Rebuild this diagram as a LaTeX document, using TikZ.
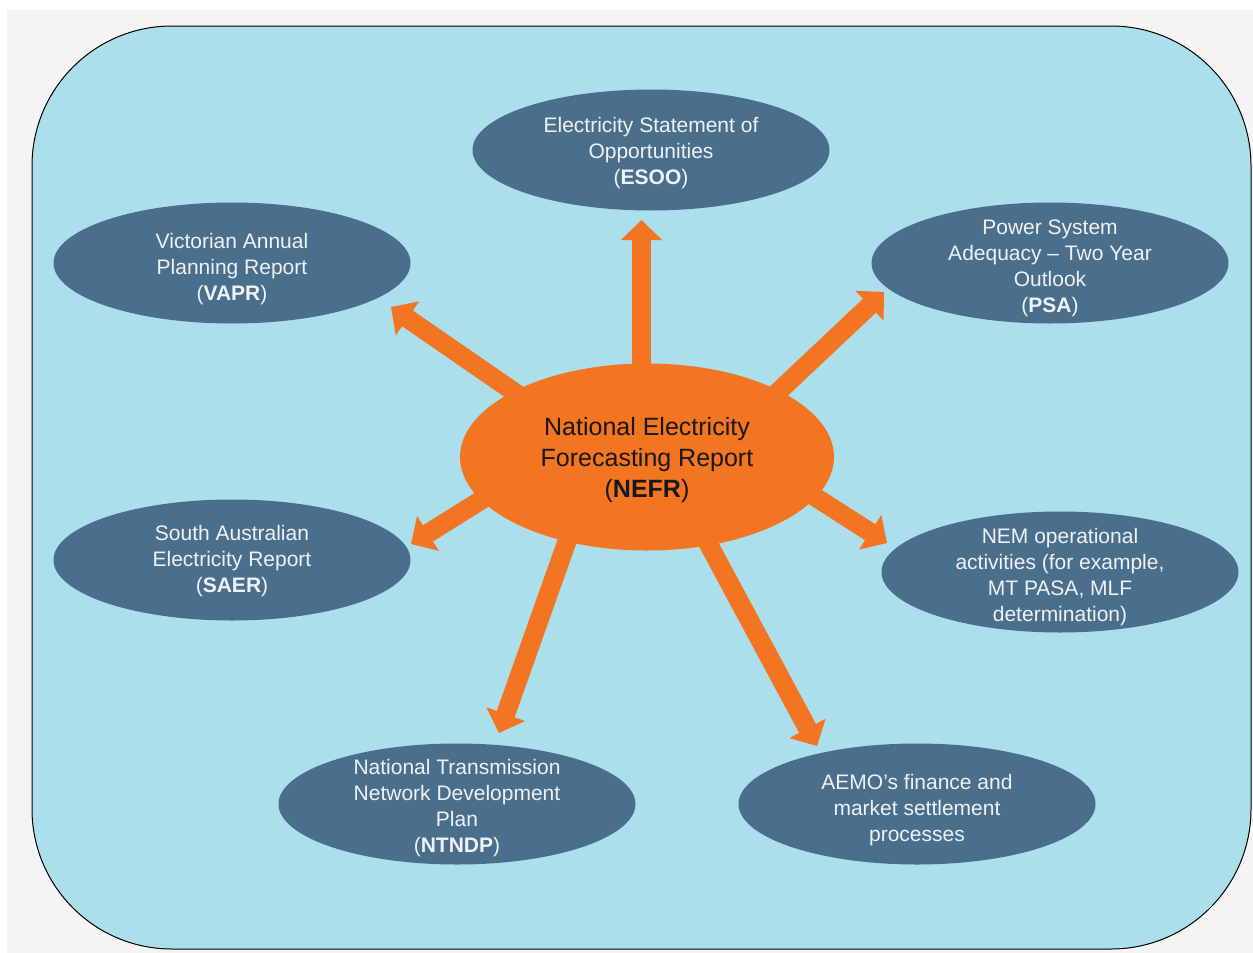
\documentclass[tikz,border=0pt]{standalone}
\usepackage{fontspec}
\setmainfont{Liberation Sans}
\usetikzlibrary{shapes.geometric,arrows.meta}
\definecolor{outergray}{HTML}{F5F3F4}
\definecolor{bgblue}{HTML}{ABDFEC}
\definecolor{ellblue}{HTML}{4A6F8D}
\definecolor{nefrorange}{HTML}{F37421}
\definecolor{lighttext}{HTML}{EEF2F5}
\tikzset{
  blueell/.style={ellipse, fill=ellblue, draw=none, minimum width=357pt, minimum height=121pt, inner sep=0pt},
  bluetext/.style={align=center, text=lighttext, font=\fontsize{21}{26}\selectfont, inner sep=0pt},
  nefrell/.style={ellipse, fill=nefrorange, draw=none, minimum width=374pt, minimum height=187pt, inner sep=0pt},
  nefrtext/.style={align=center, text=black!90, font=\fontsize{25}{31}\selectfont, inner sep=0pt},
  bigarrow/.style={draw=nefrorange, line width=19pt, -{Triangle[width=40pt,length=20pt]}}
}
\begin{document}
\begin{tikzpicture}[x=1pt,y=-1pt]
\useasboundingbox (0,0) rectangle (1253,953);
\fill[white] (0,0) rectangle (1253,953);
\fill[outergray] (7,10) rectangle (1253,953);
\draw[fill=bgblue, draw=black, line width=1pt, rounded corners=140pt] (32,26) rectangle (1251,949);

% arrow tails (inside NEFR) and tips
\coordinate (s1) at (641.5,430);
\coordinate (t1) at (641.5,220);
\coordinate (s2) at (575,434);
\coordinate (t2) at (391,307);
\coordinate (s3) at (727,440);
\coordinate (t3) at (884,292);
\coordinate (s4) at (550,457);
\coordinate (t4) at (411,544);
\coordinate (s5) at (745,452);
\coordinate (t5) at (887,543);
\coordinate (s6) at (587,485);
\coordinate (t6) at (499,733);
\coordinate (s7) at (680,491);
\coordinate (t7) at (817,746);

\draw[bigarrow] (s1) -- (t1);
\draw[bigarrow] (s2) -- (t2);
\draw[bigarrow] (s3) -- (t3);
\draw[bigarrow] (s4) -- (t4);
\draw[bigarrow] (s5) -- (t5);
\draw[bigarrow] (s6) -- (t6);
\draw[bigarrow] (s7) -- (t7);

\node[nefrell] (nefr) at (647,457) {};
\node[nefrtext] (nefr-label) at ([yshift=-3pt]nefr.center) {National Electricity\\Forecasting Report\\(\textbf{NEFR})};

\node[blueell] (esoo) at (651,150) {};
\node[bluetext] (esoo-label) at ([yshift=-3pt]esoo.center) {Electricity Statement of\\Opportunities\\(\textbf{ESOO})};

\node[blueell] (vapr) at (232,263) {};
\node[bluetext] (vapr-label) at ([yshift=-6pt]vapr.center) {Victorian Annual\\Planning Report\\(\textbf{VAPR})};

\node[blueell] (psa) at (1050,263) {};
\node[bluetext] (psa-label) at ([yshift=-5pt]psa.center) {Power System\\Adequacy – Two Year\\Outlook\\(\textbf{PSA})};

\node[blueell] (saer) at (232,560) {};
\node[bluetext] (saer-label) at ([yshift=-1pt]saer.center) {South Australian\\Electricity Report\\(\textbf{SAER})};

\node[blueell] (nem) at (1060,572) {};
\node[bluetext] (nem-label) at ([yshift=-5pt]nem.center) {NEM operational\\activities (for example,\\MT PASA, MLF\\determination)};

\node[blueell] (ntndp) at (457,804) {};
\node[bluetext] (ntndp-label) at ([yshift=-4pt]ntndp.center) {National Transmission\\Network Development\\Plan\\(\textbf{NTNDP})};

\node[blueell] (aemo) at (917,804) {};
\node[bluetext] (aemo-label) at ([yshift=-6pt]aemo.center) {AEMO’s finance and\\market settlement\\processes};
\end{tikzpicture}
\end{document}
